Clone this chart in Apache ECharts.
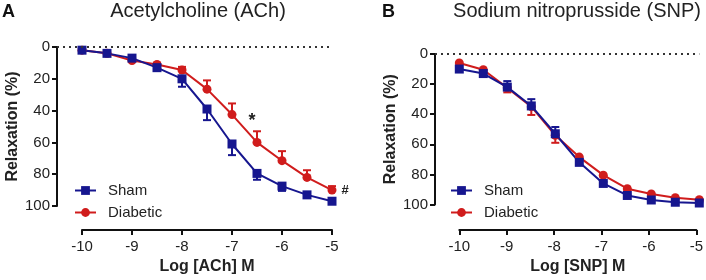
<!DOCTYPE html>
<html>
<head>
<meta charset="utf-8">
<script src="https://cdn.jsdelivr.net/npm/echarts@6/dist/echarts.min.js"></script>
<style>
html,body{margin:0;padding:0;background:#fff;}
#chart{width:706px;height:280px;}
</style>
</head>
<body>
<div id="chart"></div>
<script>
// ---- data ----
const logConc = [-10, -9.5, -9, -8.5, -8, -7.5, -7, -6.5, -6, -5.5, -5];

const achSham     = [2, 4, 7, 13, 20, 39, 61, 79.5, 87.5, 93, 97];
const achShamErr  = [0, 0, 1, 2, 5, 7, 7, 4, 3, 1, 0.5];      // drawn downward
const achDiab     = [2, 4, 8.5, 11, 14.5, 26.5, 42.5, 60, 71.5, 82, 90];
const achDiabErr  = [0, 0, 1, 1, 2, 5.5, 7, 7, 6, 4.5, 2.5];  // drawn upward

const snpSham     = [10, 13, 22, 34.5, 53, 72, 86, 94, 97, 98.5, 99];
const snpShamErr  = [0, 0, 4, 4.5, 4.5, 1, 1, 0.5, 0.5, 0.5, 0.5]; // upward
const snpDiab     = [6, 10.5, 22.5, 35, 54, 68.5, 80.5, 89.5, 93, 95.5, 96.8];
const snpDiabErr  = [0, 0, 3, 5.5, 5, 1, 1, 0.5, 0.5, 0.5, 0.5];   // downward

const seriesNames = ['Sham', 'Diabetic'];
const panelLetters = ['A', 'B'];
const panelTitles = ['Acetylcholine (ACh)', 'Sodium nitroprusside (SNP)'];
const xAxisNames = ['Log [ACh] M', 'Log [SNP] M'];
const yAxisName = 'Relaxation (%)';
const annotStar = '*';
const annotHash = '#';

// ---- styling ----
const BLUE = '#16168f';
const RED = '#d01c1c';
const FONT = 'Liberation Sans, Arial, Helvetica, sans-serif';
const AXC = '#111';

function pairs(vals) { return logConc.map((x, i) => [x, vals[i]]); }
function errPairs(vals, errs, dir) { return logConc.map((x, i) => [x, vals[i], errs[i] * dir]); }

function errSeries(name, xi, yi, data, color) {
  return {
    type: 'custom', name: name + ' err', xAxisIndex: xi, yAxisIndex: yi, z: 1, silent: true,
    data: data, clip: false,
    renderItem: function (params, api) {
      const x = api.value(0), y = api.value(1), e = api.value(2);
      if (!e) return null;
      const p0 = api.coord([x, y]);
      const p1 = api.coord([x, y + e]);
      return {
        type: 'group',
        children: [
          { type: 'line', shape: { x1: p0[0], y1: p0[1], x2: p1[0], y2: p1[1] }, style: { stroke: color, lineWidth: 2 } },
          { type: 'line', shape: { x1: p1[0] - 4, y1: p1[1], x2: p1[0] + 4, y2: p1[1] }, style: { stroke: color, lineWidth: 2 } }
        ]
      };
    }
  };
}

function lineSeries(name, xi, yi, data, color, symbol, extra) {
  return Object.assign({
    type: 'line', name: name, xAxisIndex: xi, yAxisIndex: yi, data: data,
    symbol: symbol, symbolSize: 9, showAllSymbol: true, clip: false, z: 3,
    lineStyle: { color: color, width: 2 },
    itemStyle: { color: color, borderWidth: 0 },
    emphasis: { disabled: true }
  }, extra || {});
}

const panels = [
  { plotLeft: 57, axisLeft: 82, top: 47, height: 159, xWidth: 250, xAxisGap: 26,
    sham: achSham, shamErr: achShamErr, shamDir: 1, diab: achDiab, diabErr: achDiabErr, diabDir: -1,
    legendLeft: 69, legendTop: 178, starIdx: 7, hashIdx: 10 },
  { plotLeft: 435, axisLeft: 459.3, top: 54, height: 150.5, xWidth: 240, xAxisGap: 26,
    sham: snpSham, shamErr: snpShamErr, shamDir: -1, diab: snpDiab, diabErr: snpDiabErr, diabDir: 1,
    legendLeft: 445, legendTop: 178, starIdx: -1, hashIdx: -1 }
];

const grid = [], xAxis = [], yAxis = [], series = [], legend = [], graphic = [];

panels.forEach((p, k) => {
  const gP = k * 2, gX = k * 2 + 1;
  const unit = p.xWidth / 5;
  const plotWidth = p.axisLeft + p.xWidth - p.plotLeft;
  const xMinPlot = -10 - (p.axisLeft - p.plotLeft) / unit;
  grid.push({ left: p.plotLeft, top: p.top, width: plotWidth, height: p.height, containLabel: false });
  grid.push({ left: p.axisLeft, top: p.top, width: p.xWidth, height: p.height, containLabel: false });

  // hidden x for plot grid
  xAxis.push({ type: 'value', gridIndex: gP, min: xMinPlot, max: -5, show: false });
  // visible x axis
  xAxis.push({
    type: 'value', gridIndex: gX, min: -10, max: -5, interval: 1, offset: p.xAxisGap, position: 'bottom',
    axisLine: { show: true, onZero: false, lineStyle: { color: AXC, width: 2 } },
    axisTick: { show: true, length: 5, lineStyle: { color: AXC, width: 2 } },
    axisLabel: { color: '#222', fontSize: 15, fontFamily: FONT, margin: 9 },
    splitLine: { show: false },
    name: xAxisNames[k], nameLocation: 'middle', nameGap: 17,
    nameTextStyle: { color: '#222', fontSize: 16, fontWeight: 'bold', fontFamily: FONT }
  });
  // visible y axis
  yAxis.push({
    type: 'value', gridIndex: gP, min: 0, max: 100, interval: 20, inverse: true, position: 'left',
    axisLine: { show: true, onZero: false, lineStyle: { color: AXC, width: 2 } },
    axisTick: { show: true, length: 5, lineStyle: { color: AXC, width: 2 } },
    axisLabel: { color: '#222', fontSize: 15, fontFamily: FONT, margin: 7 },
    splitLine: { show: false },
    name: yAxisName, nameLocation: 'middle', nameGap: 36,
    nameTextStyle: { color: '#222', fontSize: 16, fontWeight: 'bold', fontFamily: FONT }
  });
  yAxis.push({ type: 'value', gridIndex: gX, min: 0, max: 100, inverse: true, show: false });

  const xi = gP, yi = gP;
  series.push(errSeries('Diabetic', xi, yi, errPairs(p.diab, p.diabErr, p.diabDir), RED));
  series.push(errSeries('Sham', xi, yi, errPairs(p.sham, p.shamErr, p.shamDir), BLUE));

  const diabData = pairs(p.diab).map((d, i) => {
    if (i === p.starIdx) return { value: d, label: { show: true, formatter: annotStar, position: 'top', distance: 8, offset: [-5, 0], color: '#222', fontSize: 18, fontWeight: 'bold', fontFamily: FONT } };
    if (i === p.hashIdx) return { value: d, label: { show: true, formatter: annotHash, position: 'right', distance: 5, color: '#222', fontSize: 13, fontWeight: 'bold', fontFamily: FONT } };
    return d;
  });
  series.push(lineSeries('Diabetic', xi, yi, diabData, RED, 'circle', {
    markLine: {
      silent: true, symbol: ['none', 'none'], animation: false,
      label: { show: false },
      lineStyle: { color: '#333', width: 2, type: [2, 4] },
      data: [{ yAxis: 0 }]
    }
  }));
  series.push(lineSeries('Sham', xi, yi, pairs(p.sham), BLUE, 'rect'));

  legend.push({
    orient: 'vertical', left: p.legendLeft, top: p.legendTop, itemWidth: 21, itemHeight: 11, itemGap: 7,
    data: seriesNames, selectedMode: false,
    textStyle: { color: '#222', fontSize: 15, fontFamily: FONT, padding: [0, 0, 0, 7] }
  });
});

// panel letters and titles
graphic.push({ type: 'text', x: 2, y: 12, style: { text: panelLetters[0], font: 'bold 18px ' + FONT, fill: '#111', textVerticalAlign: 'middle' } });
graphic.push({ type: 'text', x: 198, y: 11.5, style: { text: panelTitles[0], font: '20px ' + FONT, fill: '#222', textAlign: 'center', textVerticalAlign: 'middle' } });
graphic.push({ type: 'text', x: 382, y: 12, style: { text: panelLetters[1], font: 'bold 18px ' + FONT, fill: '#111', textVerticalAlign: 'middle' } });
graphic.push({ type: 'text', x: 577, y: 11.5, style: { text: panelTitles[1], font: '20px ' + FONT, fill: '#222', textAlign: 'center', textVerticalAlign: 'middle' } });

const chart = echarts.init(document.getElementById('chart'), null, { renderer: 'canvas' });
chart.setOption({
  animation: false,
  backgroundColor: '#fff',
  grid, xAxis, yAxis, series, legend, graphic
});
</script>
</body>
</html>
